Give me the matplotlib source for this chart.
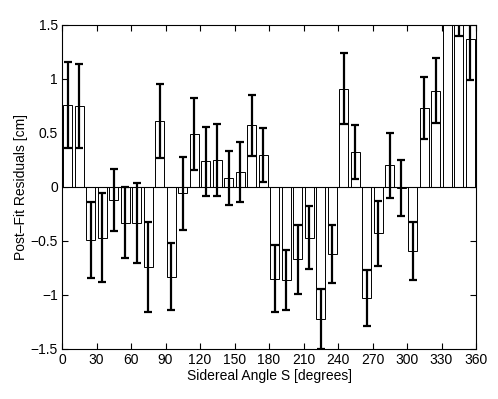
import matplotlib
matplotlib.use("Agg")
import matplotlib.pyplot as plt
import numpy as np

plt.rcParams['font.family'] = ['Liberation Sans', 'DejaVu Sans']

# sidereal angle bin centres (10 degree bins)
angles = np.arange(5, 360, 10)

residuals = [0.76, 0.75, -0.49, -0.47, -0.12, -0.33, -0.33, -0.74, 0.61, -0.83,
             -0.06, 0.49, 0.24, 0.25, 0.08, 0.14, 0.57, 0.30, -0.85, -0.86,
             -0.67, -0.47, -1.22, -0.62, 0.91, 0.32, -1.03, -0.43, 0.20, -0.01,
             -0.59, 0.73, 0.89, 2.20, 1.72, 1.37]
errors = [0.40, 0.39, 0.35, 0.41, 0.29, 0.33, 0.37, 0.42, 0.34, 0.31,
          0.34, 0.33, 0.32, 0.33, 0.25, 0.28, 0.28, 0.25, 0.31, 0.28,
          0.32, 0.29, 0.28, 0.27, 0.33, 0.25, 0.26, 0.30, 0.30, 0.26,
          0.27, 0.29, 0.30, 0.35, 0.32, 0.38]

fig = plt.figure(figsize=(4.98, 3.99), dpi=100)
ax = fig.add_axes([62 / 498, 50 / 399, 414 / 498, 324 / 399])

ax.bar(angles, residuals, width=8, color='white', edgecolor='black', linewidth=0.7, zorder=2)
ax.axhline(0, color='black', linewidth=0.8, zorder=3)
ax.errorbar(angles, residuals, yerr=errors, fmt='none', ecolor='black',
            elinewidth=1.6, capsize=3, capthick=1.6, zorder=4)

ax.set_xlim(0, 360)
ax.set_ylim(-1.5, 1.5)
ax.set_xticks(np.arange(0, 361, 30))
ax.set_yticks([-1.5, -1, -0.5, 0, 0.5, 1, 1.5])
ax.set_yticklabels(['\u22121.5', '\u22121', '\u22120.5', '0', '0.5', '1', '1.5'])
ax.tick_params(direction='in', top=True, right=True, length=4, width=0.8, labelsize=10, pad=3)
for s in ax.spines.values():
    s.set_linewidth(0.8)

ax.set_xlabel('Sidereal Angle S [degrees]', fontsize=10, labelpad=1)
ax.set_ylabel('Post\u2013Fit Residuals [cm]', fontsize=10, labelpad=2)

fig.savefig('out.png', dpi=100)
